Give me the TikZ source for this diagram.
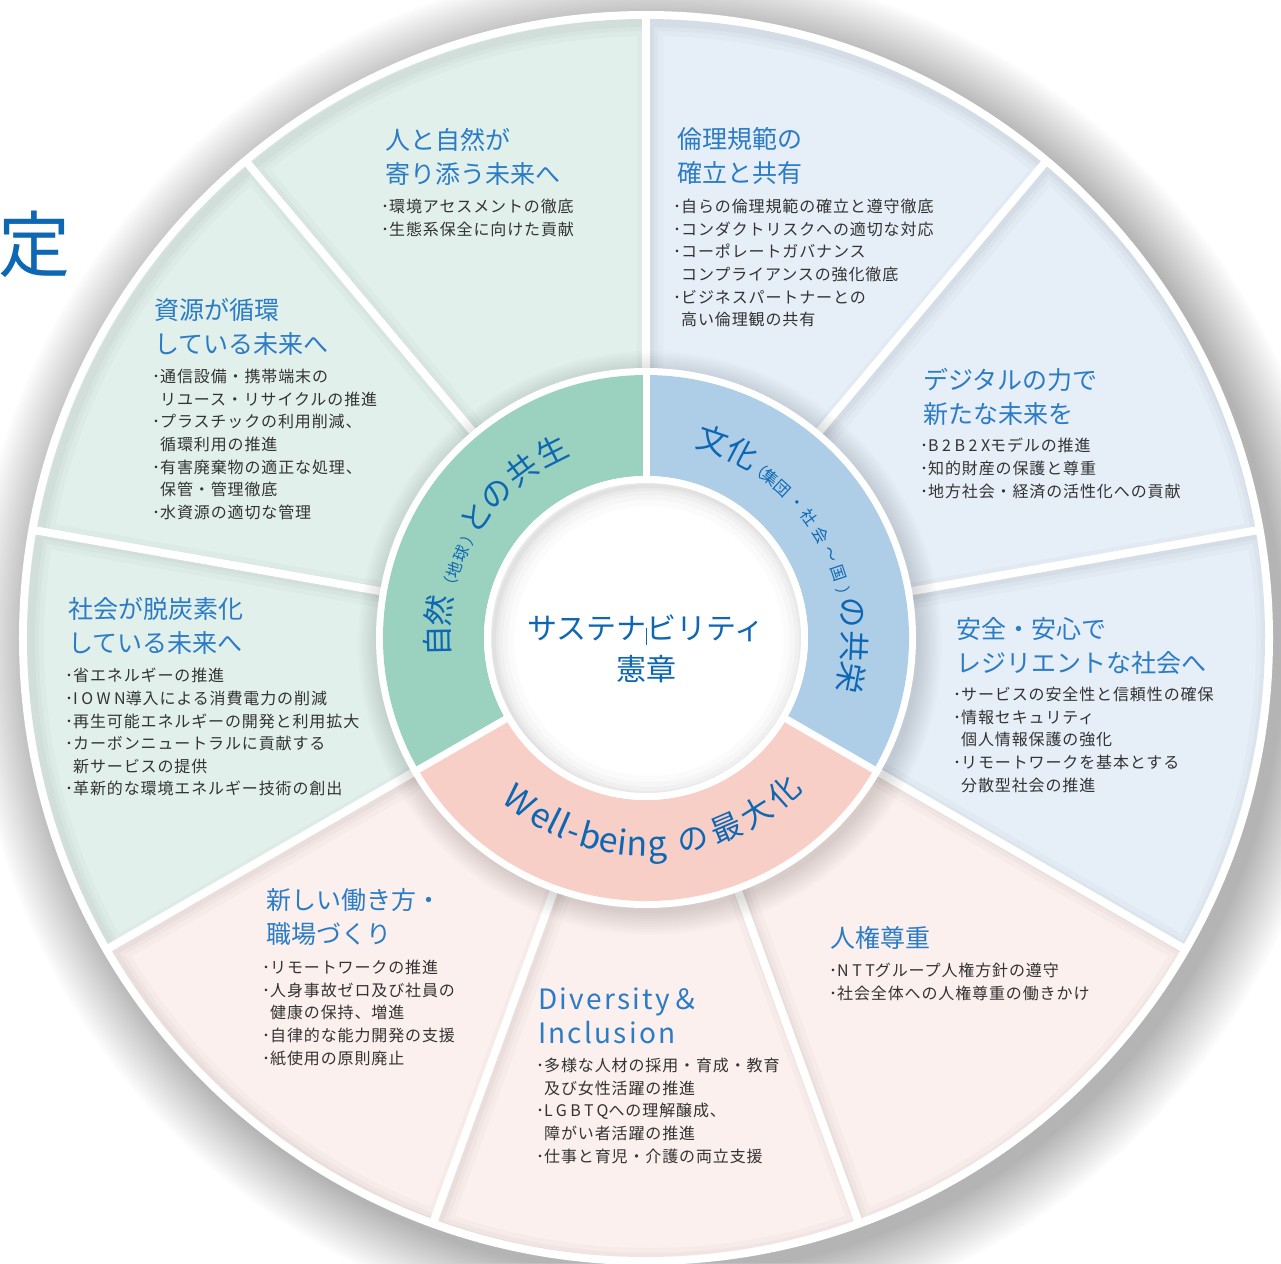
\documentclass[tikz,border=0pt]{standalone}
\usepackage{fontspec}
\setmainfont{Noto Sans CJK JP}
\definecolor{ogreen}{HTML}{E2F0EB}
\definecolor{oblue}{HTML}{E6EEF7}
\definecolor{opink}{HTML}{FBF0EE}
\definecolor{igreen}{HTML}{9BD1BF}
\definecolor{iblue}{HTML}{AECEE7}
\definecolor{ipink}{HTML}{F8CFC7}
\definecolor{ttlblue}{HTML}{2B7CC5}
\definecolor{ringblue}{HTML}{0D67B3}
\definecolor{bodygray}{HTML}{333333}
\newcommand\bl{\makebox[0.5em][l]{･}}
\newcommand\ind{\hspace*{0.5em}}
\newcommand\lat[1]{{\addfontfeature{LetterSpace=22}#1}}
\tikzset{
  seg/.style n args={3}{insert path={(0,0) -- (#1:#3) arc[start angle=#1,end angle=#2,radius=#3] -- cycle}},
  ann/.style n args={4}{insert path={(#1:#3) arc[start angle=#1,end angle=#2,radius=#3] -- (#2:#4) arc[start angle=#2,end angle=#1,radius=#4] -- cycle}},
  ttl/.style={anchor=north west, inner sep=0pt, text=ttlblue, align=left, font=\fontsize{25}{34.5}\selectfont},
  bdy/.style={anchor=north west, inner sep=0pt, text=bodygray, align=left, font={\fontsize{16}{22.6}\selectfont\addfontfeature{LetterSpace=5.5}}},
  rch/.style={anchor=base, inner sep=0pt, text=ringblue},
  ctr/.style={anchor=base, inner sep=0pt, text=ringblue, font=\fontsize{30}{30}\selectfont},
}
\newcommand\oseg[3]{%
  \fill[#3, seg={#1}{#2}{619}];
  \begin{scope}
    \clip[seg={#1}{#2}{619}];
    \foreach \w/\o in {26/0.018,16/0.022,8/0.028}{
      \draw[line width=\w pt, black, opacity=\o, shift={(4,-4)}, seg={#1}{#2}{619}];}
  \end{scope}}
\begin{document}
\begin{tikzpicture}[x=1pt,y=1pt]
\useasboundingbox (-646,-625) rectangle (635,638);
\fill[white] (-646,-625) rectangle (635,638);
% wheel shadow
\foreach \i in {0,...,24} \fill[black,opacity=0.012] (11,-11) circle ({627+2.4*\i});
\fill[white] (0,0) circle (627);
% outer segments
\oseg{90}{130}{ogreen}
\oseg{130}{170}{ogreen}
\oseg{170}{210}{ogreen}
\oseg{210}{250}{opink}
\oseg{250}{290}{opink}
\oseg{290}{330}{opink}
\oseg{330}{370}{oblue}
\oseg{10}{50}{oblue}
\oseg{50}{90}{oblue}
\foreach \a in {10,50,...,330} \draw[white,line width=8pt] (\a:150) -- (\a:622);
% ring shadow and ring
\foreach \i in {1,...,12} \fill[black,opacity=0.012] (4,-5) circle ({268+2*\i});
\fill[white] (0,0) circle (270);
\fill[igreen, ann={90}{210}{263}{162}];
\fill[ipink, ann={210}{330}{263}{162}];
\fill[iblue, ann={-30}{90}{263}{162}];
\foreach \a in {90,210,330} \draw[white,line width=7pt] (\a:155) -- (\a:270);
\fill[white] (0,0) circle (162);
% center circle inner shadow
\begin{scope}
  \clip (0,0) circle (155);
  \foreach \w/\o in {40/0.014,28/0.018,18/0.022,10/0.026,4/0.03}
    \draw[line width=\w pt, black, opacity=\o] (3,-3) circle (155);
\end{scope}
% big character at left
\node[inner sep=0pt, text=ringblue, font=\fontsize{72}{72}\selectfont] (sadame) at (-611,394) {定};
% center text
\node[ctr] (c1) at (0,-1) {サステナビリティ};
\node[ctr] (c2) at (0,-42) {憲章};
\draw[ringblue, line width=1pt] (0.7,10) -- (0.7,-7);
% ring texts
\foreach \c/\a/\s [count=\k] in {自/181/31,然/172.5/31,（/165/16,地/160.5/16,球/155.5/16,）/150/16,と/144.5/31,の/136/31,共/126.5/31,生/116.7/31}
  \node[rch, rotate=\a-90, font=\fontsize{\s}{\s}\selectfont] (g\k) at (\a:197) {\c};
\foreach \c/\a/\s [count=\k] in {文/71.3/31,化/62.3/31,（/56.2/16,集/52.2/16,団/47.6/16,・/41.8/16,社/36.5/16,会/30.4/16,〜/24.3/16,国/18.6/16,）/12.3/16,の/6.9/31,共/-2.3/31,栄/-11/31}
  \node[rch, rotate=\a-90, font=\fontsize{\s}{\s}\selectfont] (u\k) at (\a:197) {\c};
\foreach \c/\a/\s [count=\k] in {W/232.3/34,e/239.6/34,l/243.4/34,l/246.4/34,-/249.7/34,b/254.5/34,e/259.7/34,i/263.5/34,n/267.6/34,g/273.3/34,の/283.2/31,最/293/31,大/302.3/31,化/311.9/31}
  \node[rch, rotate=\a+90, font=\fontsize{\s}{\s}\selectfont] (p\k) at (\a:218) {\c};
% titles
\node[ttl] (t1) at (-261,510) {人と自然が\\寄り添う未来へ};
\node[ttl] (t2) at (31,511) {倫理規範の\\確立と共有};
\node[ttl] (t3) at (-492,340) {資源が循環\\している未来へ};
\node[ttl] (t4) at (277,270) {デジタルの力で\\新たな未来を};
\node[ttl] (t5) at (-578,41) {社会が脱炭素化\\している未来へ};
\node[ttl] (t6) at (310,21) {安全・安心で\\レジリエントな社会へ};
\node[ttl] (t7) at (-380,-250) {新しい働き方・\\職場づくり};
\node[ttl, font={\fontsize{28}{34}\selectfont\addfontfeature{LetterSpace=8}}] (t8) at (-108,-350) {Diversity＆\\Inclusion};
\node[ttl] (t9) at (184,-288) {人権尊重};
% bodies
\node[bdy] (b1) at (-265,439) {\bl{}環境アセスメントの徹底\\\bl{}生態系保全に向けた貢献};
\node[bdy] (b2) at (27,439) {\bl{}自らの倫理規範の確立と遵守徹底\\\bl{}コンダクトリスクへの適切な対応\\\bl{}コーポレートガバナンス\\\ind{}コンプライアンスの強化徹底\\\bl{}ビジネスパートナーとの\\\ind{}高い倫理観の共有};
\node[bdy] (b3) at (-494,269) {\bl{}通信設備・携帯端末の\\\ind{}リユース・リサイクルの推進\\\bl{}プラスチックの利用削減、\\\ind{}循環利用の推進\\\bl{}有害廃棄物の適正な処理、\\\ind{}保管・管理徹底\\\bl{}水資源の適切な管理};
\node[bdy] (b4) at (274,200) {\bl{}\lat{B2B2X}モデルの推進\\\bl{}知的財産の保護と尊重\\\bl{}地方社会・経済の活性化への貢献};
\node[bdy] (b5) at (-581,-30) {\bl{}省エネルギーの推進\\\bl{}\lat{IOWN}導入による消費電力の削減\\\bl{}再生可能エネルギーの開発と利用拡大\\\bl{}カーボンニュートラルに貢献する\\\ind{}新サービスの提供\\\bl{}革新的な環境エネルギー技術の創出};
\node[bdy] (b6) at (307,-49) {\bl{}サービスの安全性と信頼性の確保\\\bl{}情報セキュリティ\\\ind{}個人情報保護の強化\\\bl{}リモートワークを基本とする\\\ind{}分散型社会の推進};
\node[bdy] (b7) at (-384,-322) {\bl{}リモートワークの推進\\\bl{}人身事故ゼロ及び社員の\\\ind{}健康の保持、増進\\\bl{}自律的な能力開発の支援\\\bl{}紙使用の原則廃止};
\node[bdy] (b8) at (-110,-420) {\bl{}多様な人材の採用・育成・教育\\\ind{}及び女性活躍の推進\\\bl{}\lat{LGBTQ}への理解醸成、\\\ind{}障がい者活躍の推進\\\bl{}仕事と育児・介護の両立支援};
\node[bdy] (b9) at (183,-325) {\bl{}\lat{NTT}グループ人権方針の遵守\\\bl{}社会全体への人権尊重の働きかけ};
\end{tikzpicture}
\end{document}
